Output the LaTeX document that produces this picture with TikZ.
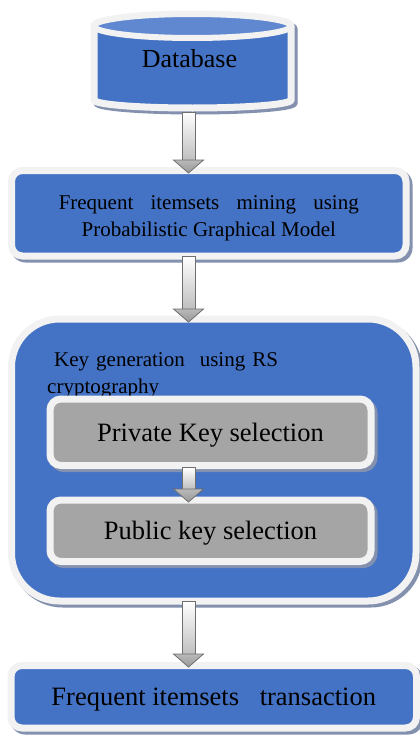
\documentclass[tikz,border=0pt]{standalone}
\usepackage{fontspec}
\setmainfont{Liberation Serif}
\usetikzlibrary{calc}
\definecolor{myblue}{HTML}{4472C4}
\definecolor{toptint}{HTML}{5F88D0}
\definecolor{rimc}{HTML}{F2F2F2}
\definecolor{keygrey}{HTML}{A5A5A5}
\definecolor{shadowc}{HTML}{8391AE}
\definecolor{arrowline}{HTML}{6F6F6F}
\pgfdeclarelayer{l0}\pgfdeclarelayer{l1}\pgfdeclarelayer{l2}
\pgfsetlayers{l0,l1,l2,main}
\tikzset{
  panel/.style={rectangle, draw=rimc, line width=7pt, inner sep=0pt, outer sep=0pt, align=center},
  bluepanel/.style={panel, fill=myblue},
  greypanel/.style={panel, fill=keygrey},
  arrowshaft/.style={draw=arrowline, line width=0.8pt, top color=white, bottom color=gray!50},
  arrowhead/.style={draw=arrowline, line width=0.8pt, top color=gray!55, bottom color=gray!80, line join=miter},
  bigfont/.style={font=\fontsize{26.5}{30}\selectfont, text depth=0pt},
  midfont/.style={font=\fontsize{21}{27.5}\selectfont}
}
\newcommand\boxshadow[2]{%
  \fill[shadowc, rounded corners=#2] ($(#1.north west)+(-0.5,-0.5)$) rectangle ($(#1.south east)+(6.5,6.5)$);}
\newcommand\blockarrow[2]{%
  \draw[arrowshaft] let \p1=(#1), \p2=(#2) in (\x1-6.5pt,\y1) rectangle (\x1+6.5pt,\y2+13pt);
  \draw[arrowhead] let \p1=(#1), \p2=(#2) in (\x1-15pt,\y2+13pt) -- (\x1+15pt,\y2+13pt) -- (\x1,\y2) -- cycle;}
\begin{document}
\begin{tikzpicture}[x=1pt, y=-1pt]
\useasboundingbox (0,0) rectangle (420,736);
\coordinate (axis) at (188.5,0);
% Database cylinder
\path[fill=shadowc, draw=shadowc, line width=7pt, shift={(3,3)}]
  (94,26) -- (94,100) arc[start angle=180, end angle=360, x radius=98.5pt, y radius=8pt]
  -- (291,26) arc[start angle=0, end angle=180, x radius=98.5pt, y radius=12pt] -- cycle;
\path[fill=myblue, draw=rimc, line width=7pt]
  (94,26) -- (94,100) arc[start angle=180, end angle=360, x radius=98.5pt, y radius=8pt]
  -- (291,26) arc[start angle=0, end angle=180, x radius=98.5pt, y radius=12pt] -- cycle;
\path[fill=toptint, draw=rimc, line width=6pt] (192.5,26) ellipse [x radius=98.5pt, y radius=12pt];
\node[font=\fontsize{26}{30}\selectfont] (db) at (189.5,59) {Database};
\coordinate (dbbot) at (188.5,112);
% Frequent itemsets mining
\node[bluepanel, rounded corners=11pt, minimum width=394.5pt, minimum height=85.5pt]
  (freq) at (208.75,213.25) {};
\node[anchor=north, midfont, align=center, inner sep=0pt] (freqtxt) at (208.75,195)
  {\makebox[300pt][s]{Frequent itemsets mining using}\\Probabilistic Graphical Model};
% Key generation container
\begin{pgfonlayer}{l1}
\node[bluepanel, rounded corners=48pt, minimum width=404.5pt, minimum height=282pt] (key) at (213.75,460) {};
\end{pgfonlayer}
\node[anchor=north west, midfont, text width=330pt, align=left, inner sep=0pt] (keytxt) at (47,352)
  {\hspace*{7pt}Key generation\hspace{8pt} using RS\\cryptography};
% Private / Public
\node[greypanel, rounded corners=11pt, minimum width=321pt, minimum height=66.5pt, bigfont]
  (priv) at (210.5,432.25) {Private Key selection};
\node[greypanel, rounded corners=11pt, minimum width=321pt, minimum height=61.5pt, bigfont]
  (pub) at (210.5,530.75) {Public key selection};
% Bottom
\node[bluepanel, rounded corners=11pt, minimum width=405.5pt, minimum height=62.5pt, bigfont]
  (trans) at (213.75,696.75) {Frequent itemsets\hspace{14pt} transaction};
% shadows
\begin{pgfonlayer}{l0}
\boxshadow{freq}{14.5pt}
\boxshadow{key}{51.5pt}
\boxshadow{trans}{14.5pt}
\end{pgfonlayer}
\begin{pgfonlayer}{l2}
\boxshadow{priv}{14.5pt}
\boxshadow{pub}{14.5pt}
\end{pgfonlayer}
% arrows
\blockarrow{dbbot}{$(freq.north -| axis)+(0,2.5)$}
\blockarrow{$(freq.south -| axis)$}{$(key.north -| axis)+(0,3)$}
\blockarrow{$(priv.south -| axis)+(0,2)$}{$(pub.north -| axis)+(0,2)$}
\blockarrow{$(key.south -| axis)$}{$(trans.north -| axis)+(0,1.5)$}
\end{tikzpicture}
\end{document}
